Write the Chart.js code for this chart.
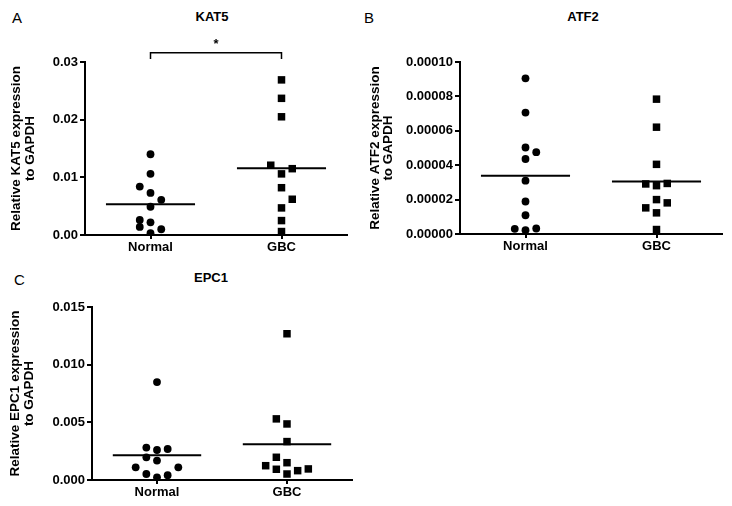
<!DOCTYPE html>
<html>
<head>
<meta charset="utf-8">
<script src="https://cdn.jsdelivr.net/npm/chart.js@4.4.0/dist/chart.umd.min.js"></script>
<style>
  body { margin: 0; background: #fff; width: 732px; height: 506px; position: relative; overflow: hidden;
         font-family: "Liberation Sans", Arial, sans-serif; color: #000; }
  canvas { position: absolute; }
  .letter { position: absolute; font-size: 15px; line-height: 1; }
  .title { position: absolute; font-size: 13px; font-weight: bold; line-height: 1; transform: translateX(-50%); }
</style>
</head>
<body>
<div class="letter" style="left:12px; top:10px;">A</div>
<div class="title" style="left:212px; top:10px;">KAT5</div>
<div class="letter" style="left:364px; top:10px;">B</div>
<div class="title" style="left:583px; top:10px;">ATF2</div>
<div class="letter" style="left:14px; top:272px;">C</div>
<div class="title" style="left:211px; top:271px;">EPC1</div>

<canvas id="kat5" width="360" height="260" style="left:0; top:0;"></canvas>
<canvas id="atf2" width="372" height="260" style="left:360px; top:0;"></canvas>
<canvas id="epc1" width="360" height="256" style="left:0; top:250px;"></canvas>

<script>
const categories = ['Normal', 'GBC'];

// KAT5 (col = side-by-side offset of overlapping dots)
const kat5Normal = [0.0140, 0.0106, 0.0084, 0.0073, 0.0061, 0.0049, 0.0026, 0.0022, 0.0014, 0.0010, 0.0003];
const kat5NormalCol = [0, 0, -1, 0, 1, 0, -1, 0, -1, 1, 0];
const kat5Gbc = [0.0269, 0.0237, 0.0205, 0.0121, 0.0115, 0.0106, 0.0082, 0.0062, 0.0047, 0.0025, 0.0006];
const kat5GbcCol = [0, 0, 0, -1, 1, 0, 0, 1, 0, 0, 0];

// ATF2
const atf2Normal = [0.0000905, 0.0000706, 0.0000503, 0.0000476, 0.0000436, 0.0000310, 0.0000189, 0.0000109, 0.0000030, 0.0000022, 0.0000032];
const atf2NormalCol = [0, 0, 0, 1, 0, 0, 0, 0, -1, 0, 1];
const atf2Gbc = [0.0000784, 0.0000621, 0.0000405, 0.0000291, 0.0000281, 0.0000294, 0.0000200, 0.0000181, 0.0000152, 0.0000123, 0.0000026];
const atf2GbcCol = [0, 0, 0, -1, 0, 1, 0, 1, -1, 0, 0];

// EPC1
const epc1Normal = [0.00849, 0.00281, 0.00269, 0.00260, 0.00197, 0.00168, 0.00110, 0.00110, 0.00052, 0.00041, 0.00023];
const epc1NormalCol = [0, -1, 1, 0, -1, 0, -2, 2, -1, 1, 0];
const epc1Gbc = [0.01268, 0.00530, 0.00486, 0.00333, 0.00197, 0.00150, 0.00124, 0.00093, 0.00081, 0.00096, 0.00052];
const epc1GbcCol = [0, -1, 0, 0, -1, 0, -2, -1, 1, 2, 0];

const colStep = 0.082;
const meanHalf = 0.34;
const font = "'Liberation Sans', Arial, sans-serif";

function mean(a) {
    return a.reduce((s, v) => s + v, 0) / a.length;
}

function jitter(values, cols, cat) {
    return values.map((v, i) => ({ x: cat + cols[i] * colStep, y: v }));
}

function meanLine(values, cat) {
    let m = mean(values);
    return {
        type: 'line',
        data: [{ x: cat - meanHalf, y: m }, { x: cat + meanHalf, y: m }],
        borderColor: '#000',
        borderWidth: 2,
        pointRadius: 0
    };
}

// significance bracket between the two groups
const bracketPlugin = {
    id: 'bracket',
    afterDraw(chart, args, opts) {
        if (!opts.text) return;
        const ctx = chart.ctx;
        const x0 = chart.scales.x.getPixelForValue(0);
        const x1 = chart.scales.x.getPixelForValue(1);
        const yTop = chart.scales.y.getPixelForValue(opts.top);
        const yEnd = chart.scales.y.getPixelForValue(opts.end);
        ctx.save();
        ctx.strokeStyle = '#000';
        ctx.lineWidth = 1.5;
        ctx.beginPath();
        ctx.moveTo(x0, yEnd);
        ctx.lineTo(x0, yTop);
        ctx.lineTo(x1, yTop);
        ctx.lineTo(x1, yEnd);
        ctx.stroke();
        ctx.fillStyle = '#000';
        ctx.font = "bold 13px " + font;
        ctx.textAlign = 'center';
        ctx.textBaseline = 'middle';
        ctx.fillText(opts.text, (x0 + x1) / 2, yTop - 8);
        ctx.restore();
    }
};

// two-line rotated y title, each line centred on the plot height
const yTitlePlugin = {
    id: 'yTitle',
    afterDraw(chart, args, opts) {
        const ctx = chart.ctx;
        const area = chart.chartArea;
        const cy = (area.top + area.bottom) / 2;
        ctx.save();
        ctx.fillStyle = '#000';
        ctx.font = "bold 13.5px " + font;
        ctx.textAlign = 'center';
        ctx.textBaseline = 'middle';
        opts.lines.forEach((line, i) => {
            ctx.save();
            ctx.translate(opts.x[i], cy);
            ctx.rotate(-Math.PI / 2);
            ctx.fillText(line, 0, 0);
            ctx.restore();
        });
        ctx.restore();
    }
};

function makeChart(id, cfg) {
    const ctx = document.getElementById(id).getContext('2d');
    return new Chart(ctx, {
        type: 'scatter',
        data: {
            datasets: [
                { data: jitter(cfg.normal, cfg.normalCol, 0), pointStyle: 'circle', pointRadius: 3.9,
                  backgroundColor: '#000', borderWidth: 0 },
                { data: jitter(cfg.gbc, cfg.gbcCol, 1), pointStyle: 'rect', pointRadius: 5.3,
                  backgroundColor: '#000', borderWidth: 0 },
                meanLine(cfg.normal, 0),
                meanLine(cfg.gbc, 1)
            ]
        },
        options: {
            responsive: false,
            animation: false,
            layout: { padding: cfg.padding },
            plugins: {
                legend: { display: false },
                tooltip: { enabled: false },
                bracket: cfg.bracket || {},
                yTitle: { lines: cfg.yTitle, x: cfg.yTitleX }
            },
            scales: {
                x: {
                    type: 'linear',
                    min: -0.5,
                    max: 1.5,
                    afterBuildTicks: s => { s.ticks = [{ value: 0 }, { value: 1 }]; },
                    afterFit: s => { s.height = cfg.xHeight; },
                    ticks: {
                        autoSkip: false, maxRotation: 0, padding: 1, color: '#000',
                        font: { family: font, size: 13, weight: 'bold' },
                        callback: v => categories[v]
                    },
                    grid: { drawOnChartArea: false, drawTicks: true, tickLength: 4, color: '#000', lineWidth: 2 },
                    border: { display: true, color: '#000', width: 2 }
                },
                y: {
                    min: 0,
                    max: cfg.yMax,
                    afterFit: s => { s.width = cfg.yWidth; },
                    ticks: {
                        stepSize: cfg.step, padding: 2, color: '#000',
                        font: { family: font, size: 13, weight: 'bold' },
                        callback: v => v.toFixed(cfg.decimals)
                    },
                    grid: { drawOnChartArea: false, drawTicks: true, tickLength: 5, color: '#000', lineWidth: 2 },
                    border: { display: true, color: '#000', width: 2 }
                }
            }
        },
        plugins: [bracketPlugin, yTitlePlugin]
    });
}

makeChart('kat5', {
    normal: kat5Normal, normalCol: kat5NormalCol, gbc: kat5Gbc, gbcCol: kat5GbcCol,
    yMax: 0.03, step: 0.01, decimals: 2,
    yWidth: 85, xHeight: 25, padding: { top: 62, right: 13, left: 0, bottom: 0 },
    yTitle: ['Relative KAT5 expression', 'to GAPDH'], yTitleX: [16.5, 30.5],
    bracket: { top: 0.0316, end: 0.0305, text: '*' }
});

makeChart('atf2', {
    normal: atf2Normal, normalCol: atf2NormalCol, gbc: atf2Gbc, gbcCol: atf2GbcCol,
    yMax: 0.0001, step: 0.00002, decimals: 5,
    yWidth: 100, xHeight: 26, padding: { top: 62, right: 10, left: 0, bottom: 0 },
    yTitle: ['Relative ATF2 expression', 'to GAPDH'], yTitleX: [15, 28.5]
});

makeChart('epc1', {
    normal: epc1Normal, normalCol: epc1NormalCol, gbc: epc1Gbc, gbcCol: epc1GbcCol,
    yMax: 0.015, step: 0.005, decimals: 3,
    yWidth: 92, xHeight: 26, padding: { top: 57, right: 8, left: 0, bottom: 0 },
    yTitle: ['Relative EPC1 expression', 'to GAPDH'], yTitleX: [15, 29]
});
</script>
</body>
</html>
